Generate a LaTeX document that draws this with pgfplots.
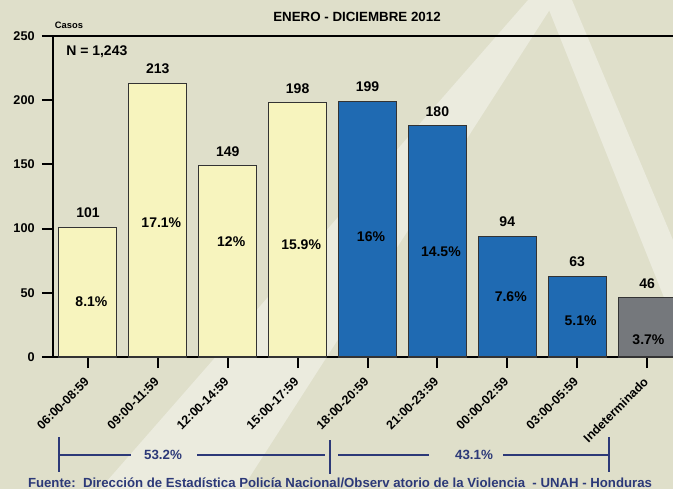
\documentclass[border=0pt]{standalone}
\usepackage{fontspec}
\setmainfont{Liberation Sans}
\usepackage{pgfplots}
\pgfplotsset{compat=1.18}
\definecolor{bg}{RGB}{223,223,202}
\definecolor{wm}{RGB}{235,235,222}
\definecolor{byel}{RGB}{247,244,190}
\definecolor{bblue}{RGB}{31,106,178}
\definecolor{bgray}{RGB}{117,120,124}
\definecolor{navy}{RGB}{44,57,120}
\tikzset{pct/.style={font=\bfseries\fontsize{10.5}{12}\selectfont, black}}
\begin{document}
\begin{tikzpicture}[x=0.75pt,y=-0.75pt]
\path[use as bounding box] (0,0) rectangle (673,489);
\fill[bg] (0,0) rectangle (673,489);
\fill[wm] (528,0) -- (556,0) -- (242,489) -- (100,489) -- cycle;
\fill[wm] (545,0) -- (572,0) -- (673,240) -- (673,320) -- cycle;
\begin{axis}[
  at={(39.75pt,-267.75pt)}, anchor=south west,
  scale only axis, width=471.75pt, height=240.75pt,
  xmin=-0.5, xmax=8.5, ymin=0, ymax=250,
  clip=false,
  axis line style={line width=1.5pt, black},
  tick style={line width=1.5pt, black},
  major tick length=8.25pt, tick align=outside,
  xtick pos=left, ytick pos=left,
  xtick={0,...,8},
  xticklabels={06:00-08:59,09:00-11:59,12:00-14:59,15:00-17:59,18:00-20:59,21:00-23:59,00:00-02:59,03:00-05:59,Indeterminado},
  ytick={0,50,...,250},
  /pgf/number format/assume math mode=true,
  yticklabel style={font=\bfseries\fontsize{9.5}{10}\selectfont, xshift=-2pt},
  xticklabel style={rotate=45, anchor=east, font=\bfseries\fontsize{9.3}{10}\selectfont, inner sep=1pt},
  xticklabel shift=8pt,
  bar width=0.83,
  nodes near coords,
  nodes near coords style={font=\bfseries\fontsize{10.5}{12}\selectfont, anchor=south, inner sep=0pt, yshift=6.75pt, black},
]
\addplot[ybar, bar shift=0pt, fill=byel, draw=black!80, line width=0.8pt] coordinates {(0,101) (1,213) (2,149) (3,198)};
\addplot[ybar, bar shift=0pt, fill=bblue, draw=black!80, line width=0.8pt] coordinates {(4,199) (5,180) (6,94) (7,63)};
\addplot[ybar, bar shift=0pt, fill=bgray, draw=black!80, line width=0.8pt] coordinates {(8,46)};
\node[pct] at (axis cs:0.05,42.8) {8.1\%};
\node[pct] at (axis cs:1.05,104.4) {17.1\%};
\node[pct] at (axis cs:2.05,89.6) {12\%};
\node[pct] at (axis cs:3.05,87.2) {15.9\%};
\node[pct] at (axis cs:4.05,93.5) {16\%};
\node[pct] at (axis cs:5.05,81.8) {14.5\%};
\node[pct] at (axis cs:6.05,46.7) {7.6\%};
\node[pct] at (axis cs:7.05,28) {5.1\%};
\node[pct] at (axis cs:8.02,13.2) {3.7\%};
\end{axis}
\node[font=\bfseries\fontsize{10}{12}\selectfont] at (357,17) {ENERO - DICIEMBRE 2012};
\node[font=\bfseries\fontsize{7}{8}\selectfont] at (69,25) {Casos};
\node[font=\bfseries\fontsize{10.5}{12}\selectfont, anchor=west, inner sep=0pt] at (66,52) {N = 1,243};
\begin{scope}[navy, line width=1.2pt]
\draw (59,437) -- (59,472);
\draw (330,440) -- (330,474);
\draw (609,437) -- (609,472);
\draw (59,455) -- (131,455);
\draw (197,455) -- (325,455);
\draw (338,455) -- (429,455);
\draw (503,455) -- (609,455);
\end{scope}
\node[navy, font=\bfseries\fontsize{10}{12}\selectfont] at (163,455) {53.2\%};
\node[navy, font=\bfseries\fontsize{10}{12}\selectfont] at (474,455) {43.1\%};
\node[navy, font=\bfseries\fontsize{9.9}{11}\selectfont] at (340,483) {Fuente:\ \ Dirección de Estadística Policía Nacional/Observ atorio de la Violencia\ \ - UNAH - Honduras};
\end{tikzpicture}
\end{document}
